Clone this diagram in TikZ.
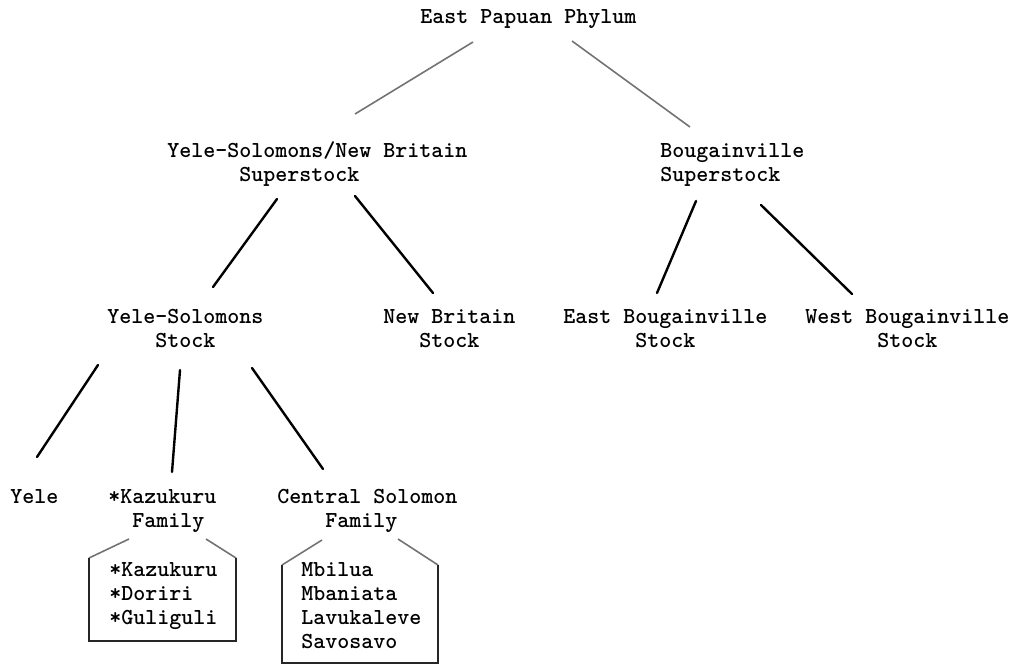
\documentclass[tikz,border=0pt]{standalone}
\begin{document}
\begin{tikzpicture}[x=0.5pt,y=-0.5pt,
  label/.style={anchor=base west,inner sep=0pt,align=left,
    font=\ttfamily\bfseries\fontsize{11.43}{12}\selectfont},
  upper/.style={draw=black!55,line width=0.8pt},
  branch/.style={draw=black,line width=1.2pt,line cap=round},
  boxside/.style={draw=black!85,line width=0.8pt},
  boxroof/.style={draw=black!55,line width=0.8pt}]
\useasboundingbox (0,0) rectangle (1015,665);

% labels of the tree; each node sits on the baseline of its last line
\node[label] (phylum) at (420,23) {East Papuan Phylum};
\node[label] (yssuper) at (167,181) {Yele-Solomons/New Britain\\\hphantom{xxxxxx}Superstock};
\node[label] (bsuper) at (660,181) {Bougainville\\Superstock};
\node[label] (ysstock) at (107,347) {Yele-Solomons\\\hphantom{xxxx}Stock};
\node[label] (nbstock) at (383,347) {New Britain\\\hphantom{xxx}Stock};
\node[label] (ebstock) at (563,347) {East Bougainville\\\hphantom{xxxxxx}Stock};
\node[label] (wbstock) at (805,347) {West Bougainville\\\hphantom{xxxxxx}Stock};
\node[label] (yele) at (10,503) {Yele};
\node[label] (kazfam) at (108,527) {*Kazukuru\\\hphantom{xx}Family};
\node[label] (csfam) at (277,527) {Central Solomon\\\hphantom{xxxx}Family};
\node[label] (kazlist) at (109,624) {*Kazukuru\\*Doriri\\*Guliguli};
\node[label] (cslist) at (301,648) {Mbilua\\Mbaniata\\Lavukaleve\\Savosavo};

% end points of the branches
\coordinate (p-a) at (473,42);  \coordinate (p-b) at (355,114);
\coordinate (p-c) at (572,41);  \coordinate (p-d) at (690,127);
\coordinate (s-a) at (277,199); \coordinate (s-b) at (213,287);
\coordinate (s-c) at (355,196); \coordinate (s-d) at (433,293);
\coordinate (b-a) at (696,201); \coordinate (b-b) at (657,293);
\coordinate (b-c) at (761,205); \coordinate (b-d) at (852,294);
\coordinate (y-a) at (98,365);  \coordinate (y-b) at (37,457);
\coordinate (y-c) at (180,370); \coordinate (y-d) at (172,472);
\coordinate (y-e) at (252,368); \coordinate (y-f) at (323,469);

\draw[upper] (p-a) -- (p-b);
\draw[upper] (p-c) -- (p-d);
\draw[branch] (s-a) -- (s-b);
\draw[branch] (s-c) -- (s-d);
\draw[branch] (b-a) -- (b-b);
\draw[branch] (b-c) -- (b-d);
\draw[branch] (y-a) -- (y-b);
\draw[branch] (y-c) -- (y-d);
\draw[branch] (y-e) -- (y-f);

% member lists, open at the top
\coordinate (k-roofl) at (129,539); \coordinate (k-nw) at (89,558);
\coordinate (k-sw) at (89,641);     \coordinate (k-se) at (236,641);
\coordinate (k-ne) at (236,558);    \coordinate (k-roofr) at (206,539);
\draw[boxroof] (k-roofl) -- (k-nw);
\draw[boxroof] (k-ne) -- (k-roofr);
\draw[boxside] (k-nw) -- (k-sw) -- (k-se) -- (k-ne);

\coordinate (c-roofl) at (322,540); \coordinate (c-nw) at (282,565);
\coordinate (c-sw) at (282,663);    \coordinate (c-se) at (438,663);
\coordinate (c-ne) at (438,565);    \coordinate (c-roofr) at (398,539);
\draw[boxroof] (c-roofl) -- (c-nw);
\draw[boxroof] (c-ne) -- (c-roofr);
\draw[boxside] (c-nw) -- (c-sw) -- (c-se) -- (c-ne);
\end{tikzpicture}
\end{document}
